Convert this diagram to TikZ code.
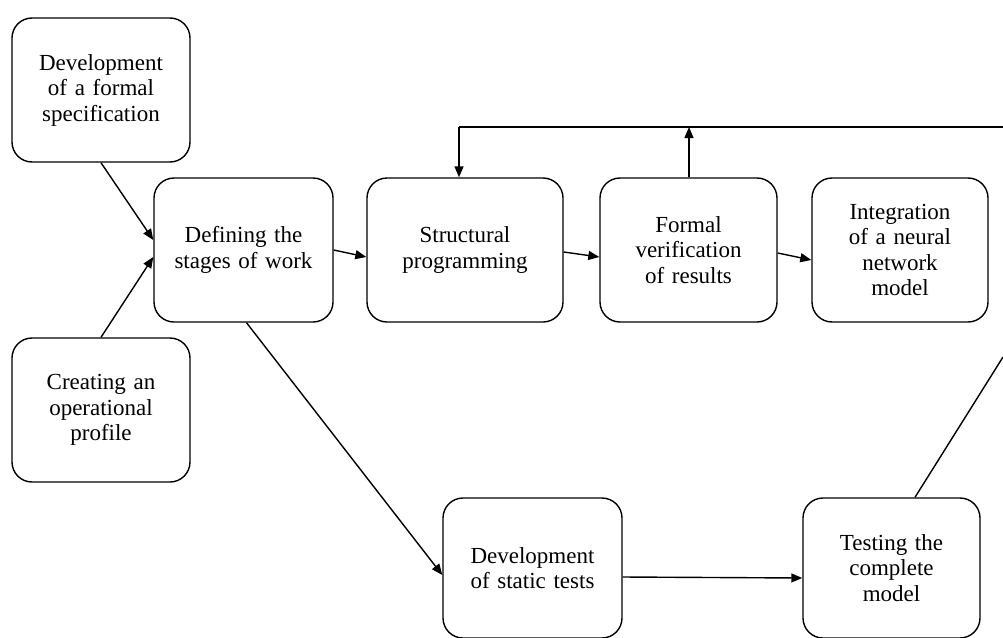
\documentclass[tikz,border=0pt]{standalone}
\usepackage{fontspec}
\setmainfont{Liberation Serif}
\usetikzlibrary{arrows.meta}
\begin{document}
\begin{tikzpicture}[x=1pt,y=-1pt,
  box/.style={draw, line width=1.4pt, rounded corners=20pt, minimum width=178pt,
    minimum height=144pt, align=center, inner sep=0pt, text width=170pt,
    font=\fontsize{23}{25.5}\selectfont},
  conn/.style={line width=1.4pt},
  arr/.style={conn, -{Triangle[length=11pt,width=9pt]}}]
\useasboundingbox (0,0) rectangle (1003,637);
\node[box] (b1) at (101,90) {Development\\of a formal\\specification};
\node[box] (b2) at (101,410) {Creating an\\operational\\profile};
\node[box, minimum width=179pt] (b3) at (243.5,250) {Defining the\\stages of work};
\node[box, minimum width=196pt] (b4) at (465,250) {Structural\\programming};
\node[box, minimum width=177pt] (b5) at (688.5,250) {Formal\\verification\\of results};
\node[box, minimum width=176pt] (b6) at (900,250) {Integration\\of a neural\\network\\model};
\node[box, minimum width=179pt, minimum height=140pt] (b7) at (532.5,568) {Development\\of static tests};
\node[box, minimum width=177pt, minimum height=140pt] (b8) at (891.5,568) {Testing the\\complete\\model};
\coordinate (topR) at (1003,127);
\coordinate (topL) at (459,127);
\coordinate (upT) at (689,127);
\coordinate (exitR) at (1003,357);
\draw[arr] (b1.south) -- ([yshift=10pt]b3.west);
\draw[arr] (b2.north) -- ([yshift=-7pt]b3.west);
\draw[arr] (b3.east) -- ([yshift=-7pt]b4.west);
\draw[arr] ([yshift=-2pt]b4.east) -- ([yshift=-7pt]b5.west);
\draw[arr] ([yshift=-3pt]b5.east) -- ([yshift=-10pt]b6.west);
\draw[arr] ([xshift=3pt]b3.south) -- ([yshift=-7pt]b7.west);
\draw[arr] ([yshift=-9pt]b7.east) -- ([yshift=-10pt]b8.west);
\draw[conn] ([xshift=23.5pt]b8.north) -- (exitR);
\draw[conn] (topR) -- (topL);
\draw[arr] (topL) -- ([xshift=-6pt]b4.north);
\draw[arr] ([xshift=0.5pt]b5.north) -- (upT);
\end{tikzpicture}
\end{document}
